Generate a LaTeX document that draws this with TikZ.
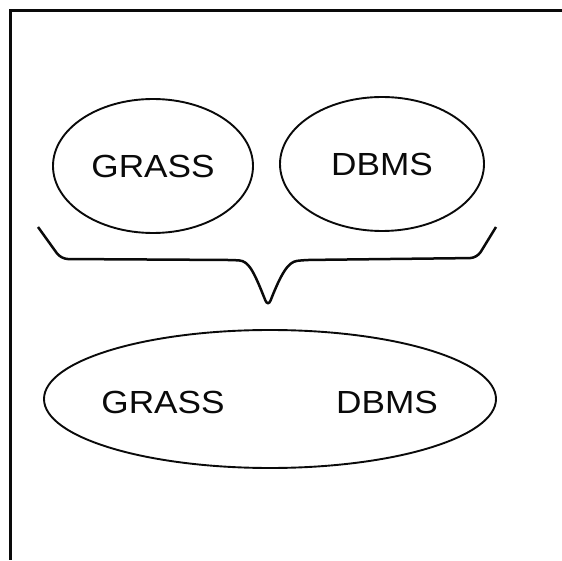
\documentclass[tikz,border=0pt]{standalone}
\usepackage{fontspec}
\setmainfont{Liberation Sans}
\usepackage{graphicx}
\usetikzlibrary{shapes.geometric}
\definecolor{inkLine}{RGB}{10, 10, 10}
\tikzset{
  sysoval/.style={
    ellipse, draw=inkLine, line width=1.9pt, inner sep=0pt,
  },
  sysname/.style={
    font=\fontsize{32}{36}\selectfont, text=inkLine, inner sep=0pt,
  },
  bracepath/.style={
    draw=inkLine, line width=2.5pt, rounded corners=7pt,
  },
  framerule/.style={
    draw=inkLine, line width=3pt,
  },
}
\newcommand{\sysword}[1]{\scalebox{1.1}[1]{#1}}

\begin{document}
\begin{tikzpicture}[x=1pt, y=1pt]
\useasboundingbox (0,0) rectangle (562,560);

% =========================================================================
% frame (top and left rules only)
% =========================================================================
\coordinate (frame-tl) at (10.5,549);
\coordinate (frame-tr) at (562,549);
\coordinate (frame-bl) at (10.5,0);
\draw[framerule] (frame-tr) -- (frame-tl) -- (frame-bl);

% =========================================================================
% the two separate systems
% =========================================================================
\node[sysoval, minimum width=200pt, minimum height=134pt] (grass) at (153,394) {};
\node[sysoval, minimum width=204pt, minimum height=134pt] (dbms)  at (382,396) {};
\node[sysname] (grass-name) at (grass.center) {\sysword{GRASS}};
\node[sysname] (dbms-name)  at (dbms.center)  {\sysword{DBMS}};

% =========================================================================
% brace joining them
% =========================================================================
\coordinate (brace-l)   at (38,333);
\coordinate (brace-r)   at (496,333);
\coordinate (brace-tip) at (268,253);
\path[bracepath] (brace-l) -- (61,301) -- (232,300)
  .. controls (249,299) and (254,288) .. (brace-tip)
  .. controls (281,286) and (288,298) .. (304,300)
  -- (477,302) -- (brace-r);

% =========================================================================
% the combined system
% =========================================================================
\node[sysoval, minimum width=452pt, minimum height=138pt] (both) at (270,161) {};
\node[sysname] (both-grass) at (163,158) {\sysword{GRASS}};
\node[sysname] (both-dbms)  at (387,158) {\sysword{DBMS}};

\end{tikzpicture}
\end{document}
